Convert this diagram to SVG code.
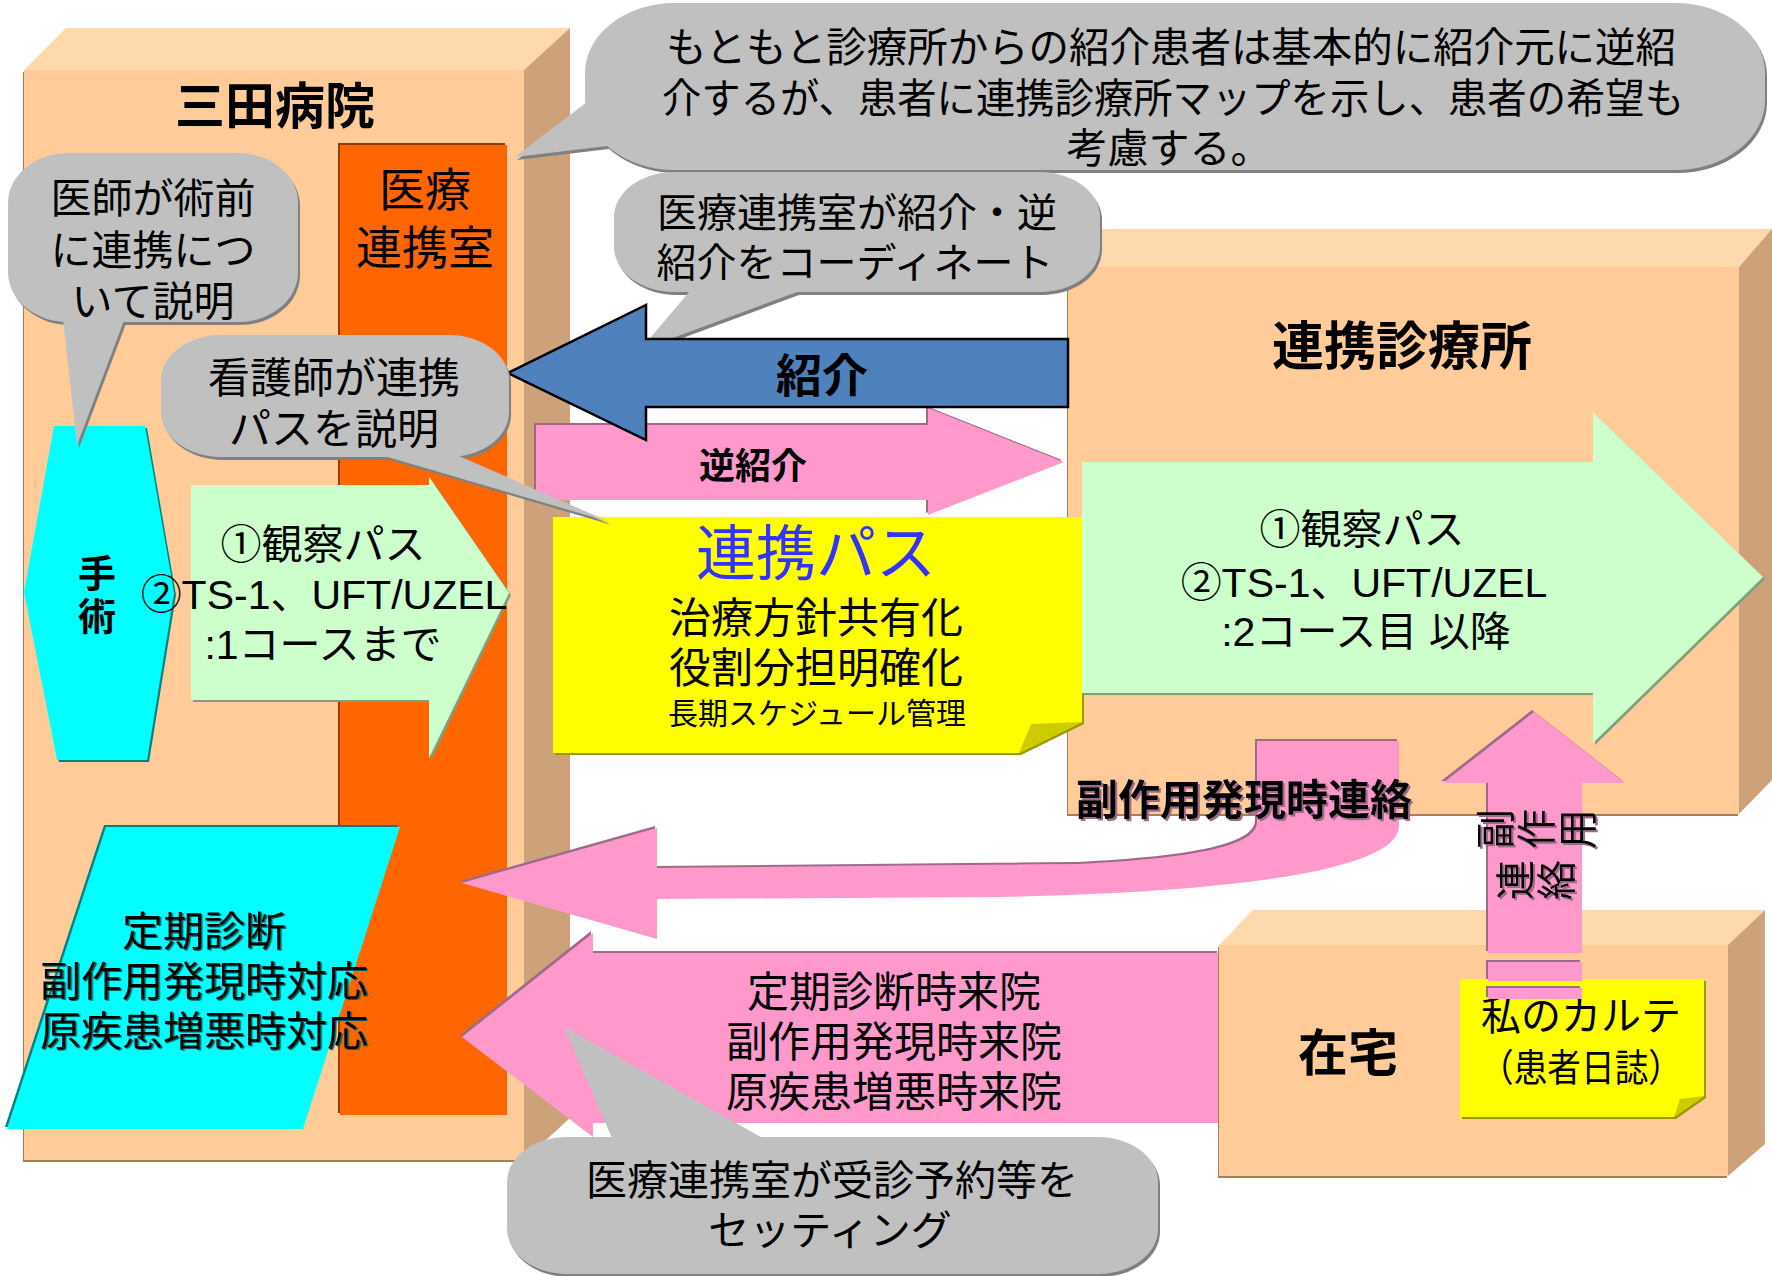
<svg xmlns="http://www.w3.org/2000/svg" width="1772" height="1276" viewBox="0 0 1772 1276">
<defs>
<filter id="shG"><feDropShadow dx="2" dy="3" stdDeviation="0" flood-color="#808080"/></filter>
<filter id="shP"><feDropShadow dx="-2" dy="-2" stdDeviation="0" flood-color="#9E6A8A"/></filter>
<filter id="shGr"><feDropShadow dx="2" dy="2" stdDeviation="0" flood-color="#7F9F7F"/></filter>
<filter id="shY"><feDropShadow dx="2" dy="2" stdDeviation="0" flood-color="#999900"/></filter>
<filter id="shC"><feDropShadow dx="2" dy="2" stdDeviation="0" flood-color="#008080"/></filter>
<filter id="shC2"><feDropShadow dx="-2" dy="-2" stdDeviation="0" flood-color="#008080"/></filter>
<filter id="shO"><feDropShadow dx="-2" dy="-2" stdDeviation="0" flood-color="#9A3A00"/></filter>
<filter id="shB"><feDropShadow dx="-1" dy="2" stdDeviation="0" flood-color="#A57F5C"/></filter>
<filter id="tshC"><feDropShadow dx="1.5" dy="1" stdDeviation="0" flood-color="#006060"/></filter>
<filter id="tshP"><feDropShadow dx="2" dy="2" stdDeviation="0" flood-color="#9E6A8A"/></filter>
</defs>
<style>
text { font-family: "Liberation Sans", "Noto Sans CJK JP", sans-serif; fill: #000; text-anchor: middle; }
.b { font-weight: bold; }
.front { fill: #FFCC99; }
.top { fill: #FFD8AE; }
.side { fill: #CDA27A; }
.bub { fill: #C0C0C0; }
.pink { fill: #FF99CC; }
.green { fill: #CCFFCC; }
.cyan { fill: #00FFFF; }
.yel { fill: #FFFF00; }
.fold { fill: #CCCC00; }
</style>
<rect width="1772" height="1276" fill="#FFFFFF"/>

<g id="hospital">
  <g filter="url(#shB)">
    <rect class="front" x="24" y="70" width="500" height="1090"/>
  </g>
  <polygon class="top" points="24,70 66,28 570,28 524,70"/>
  <polygon class="side" points="524,70 570,28 570,1118 524,1160"/>
  <text class="b" x="275" y="124" font-size="50">三田病院</text>
</g>

<g id="renkei-shitsu">
  <rect x="340" y="145" width="167" height="970" fill="#FF6600" filter="url(#shO)"/>
  <text x="425" y="206" font-size="46">医療</text>
  <text x="425" y="264" font-size="46">連携室</text>
</g>

<g id="clinic">
  <g filter="url(#shB)">
    <rect class="front" x="1068" y="267" width="671" height="547"/>
  </g>
  <polygon class="top" points="1068,267 1100,229 1772,229 1739,267"/>
  <polygon class="side" points="1739,267 1772,229 1772,780 1739,814"/>
  <text class="b" x="1402" y="365" font-size="52">連携診療所</text>
</g>

<g id="connectors-back">
  <g id="arrow-visit" filter="url(#shP)">
    <polygon class="pink" points="462,1037 593,933 593,953 1219,953 1219,1123 593,1123 593,1137"/>
  </g>
</g>

<g id="home">
  <g filter="url(#shB)">
    <rect class="front" x="1219" y="945" width="509" height="231"/>
  </g>
  <polygon class="top" points="1219,945 1253,910 1765,910 1728,945"/>
  <polygon class="side" points="1728,945 1765,910 1765,1144 1728,1176"/>
  <text class="b" x="1348" y="1071" font-size="50">在宅</text>
</g>

<g id="surgery">
  <polygon class="cyan" filter="url(#shC)" points="54,426 145,426 174,593 147,760 57,760 24,592"/>
  <text class="b" x="97" y="587" font-size="38">手</text>
  <text class="b" x="97" y="630" font-size="38">術</text>
</g>

<g id="path-hospital">
  <polygon class="green" filter="url(#shGr)" points="191,485 429,485 429,477 509,593 429,758 429,700 191,700"/>
  <text x="323" y="559" font-size="41">①観察パス</text>
  <text x="324" y="609" font-size="41">②TS-1、UFT/UZEL</text>
  <text x="323" y="659" font-size="41">:1コースまで</text>
</g>

<g id="followup">
  <polygon class="cyan" filter="url(#shC2)" points="106,827 400,827 303,1129 7,1129"/>
  <g filter="url(#tshC)">
    <text x="204" y="946" font-size="41">定期診断</text>
    <text x="204" y="996" font-size="41">副作用発現時対応</text>
    <text x="204" y="1046" font-size="41">原疾患増悪時対応</text>
  </g>
</g>

<g id="bubble-doctor">
  <g filter="url(#shG)">
    <rect class="bub" x="8" y="153" width="290" height="169" rx="60" ry="50"/>
    <polygon class="bub" points="62,310 77,445 128,310"/>
  </g>
  <text x="153" y="213" font-size="41">医師が術前</text>
  <text x="153" y="265" font-size="41">に連携につ</text>
  <text x="153" y="316" font-size="41">いて説明</text>
</g>

<g id="bubble-top">
  <g filter="url(#shG)">
    <rect class="bub" x="585" y="3" width="1180" height="167" rx="90" ry="70"/>
    <polygon class="bub" points="600,92 515,157 615,145"/>
  </g>
  <text x="1171" y="62" font-size="41" textLength="1010" lengthAdjust="spacingAndGlyphs">もともと診療所からの紹介患者は基本的に紹介元に逆紹</text>
  <text x="1173" y="113" font-size="41" textLength="1022" lengthAdjust="spacingAndGlyphs">介するが、患者に連携診療所マップを示し、患者の希望も</text>
  <text x="1169" y="163" font-size="41">考慮する。</text>
</g>

<g id="bubble-coordinate">
  <g filter="url(#shG)">
    <rect class="bub" x="614" y="172" width="486" height="120" rx="60" ry="45"/>
    <polygon class="bub" points="695,285 640,350 816,285"/>
  </g>
  <text x="857" y="227" font-size="40">医療連携室が紹介・逆</text>
  <text x="855" y="277" font-size="40">紹介をコーディネート</text>
</g>

<g id="connectors">
  <g id="arrow-gyaku">
    <polygon class="pink" filter="url(#shP)" points="536,425 928,425 928,408 1064,462 928,515 928,500 536,500"/>
    <text class="b" x="753" y="479" font-size="36">逆紹介</text>
  </g>
  <g id="arrow-shokai">
    <polygon points="508,373 646,305 646,339 1068,339 1068,407 646,407 646,440" fill="#4F81BD" stroke="#000" stroke-width="2.5" stroke-linejoin="miter"/>
    <text class="b" x="822" y="392" font-size="46">紹介</text>
  </g>
</g>

<g id="renkei-path">
  <polygon class="yel" filter="url(#shY)" points="553,517 1082,517 1082,722 1019,753 553,753"/>
  <polygon class="fold" points="1082,722 1031,724 1019,753"/>
  <text x="816" y="575" font-size="60" style="fill:#3333FF">連携パス</text>
  <text x="816" y="633" font-size="42">治療方針共有化</text>
  <text x="816" y="683" font-size="42">役割分担明確化</text>
  <text x="817" y="724" font-size="30">長期スケジュール管理</text>
</g>

<g id="bubble-nurse">
  <g filter="url(#shG)">
    <rect class="bub" x="161" y="335" width="348" height="122" rx="60" ry="45"/>
    <polygon class="bub" points="364,450 610,522 445,450"/>
  </g>
  <text x="334" y="393" font-size="42">看護師が連携</text>
  <text x="334" y="444" font-size="42">パスを説明</text>
</g>

<g id="path-clinic">
  <polygon class="green" filter="url(#shGr)" points="1082,462 1593,462 1593,412 1763,577 1593,743 1593,693 1082,693"/>
  <text x="1362" y="544" font-size="41">①観察パス</text>
  <text x="1364" y="597" font-size="41">②TS-1、UFT/UZEL</text>
  <text x="1366" y="646" font-size="41">:2コース目 以降</text>
</g>

<g id="connectors-front">
  <g id="arrow-sideeffect">
    <path class="pink" filter="url(#shP)" d="M462,883 L657,828 L657,868 L1078,864 C1200,858 1257,845 1257,822 L1257,741 L1399,741 L1399,826 C1399,868 1250,892 1000,897 L657,899 L657,939 Z"/>
    <text class="b" x="1244" y="815" font-size="42" filter="url(#tshP)">副作用発現時連絡</text>
  </g>
  <g id="visit-labels">
    <text x="894" y="1007" font-size="42">定期診断時来院</text>
    <text x="894" y="1057" font-size="42">副作用発現時来院</text>
    <text x="894" y="1107" font-size="42">原疾患増悪時来院</text>
  </g>
</g>

<g id="bubble-booking">
  <g filter="url(#shG)">
    <rect class="bub" x="507" y="1137" width="651" height="137" rx="60" ry="45"/>
    <polygon class="bub" points="615,1145 564,1027 775,1145"/>
  </g>
  <text x="832" y="1195" font-size="41">医療連携室が受診予約等を</text>
  <text x="830" y="1245" font-size="41">セッティング</text>
</g>

<g id="karte">
  <polygon class="yel" filter="url(#shY)" points="1460,979 1704,979 1704,1096 1674,1117 1460,1117"/>
  <polygon class="fold" points="1704,1096 1680,1099 1674,1117"/>
  <text x="1581" y="1030" font-size="40">私のカルテ</text>
  <text x="1581" y="1081" font-size="38" textLength="202" lengthAdjust="spacingAndGlyphs">（患者日誌）</text>
</g>

<g id="arrow-contact">
  <g filter="url(#shP)">
    <polygon class="pink" points="1534,712 1625,783 1582,783 1582,953 1488,953 1488,783 1443,783"/>
    <rect class="pink" x="1488" y="962" width="94" height="19"/>
    <rect class="pink" x="1488" y="988" width="94" height="11"/>
  </g>
  <g font-size="40" filter="url(#tshP)">
    <text x="1495" y="844" transform="rotate(-90 1495 829)">副</text>
    <text x="1536" y="844" transform="rotate(-90 1536 829)">作</text>
    <text x="1577" y="844" transform="rotate(-90 1577 829)">用</text>
    <text x="1515" y="895" transform="rotate(-90 1515 880)">連</text>
    <text x="1556" y="895" transform="rotate(-90 1556 880)">絡</text>
  </g>
</g>
</svg>
